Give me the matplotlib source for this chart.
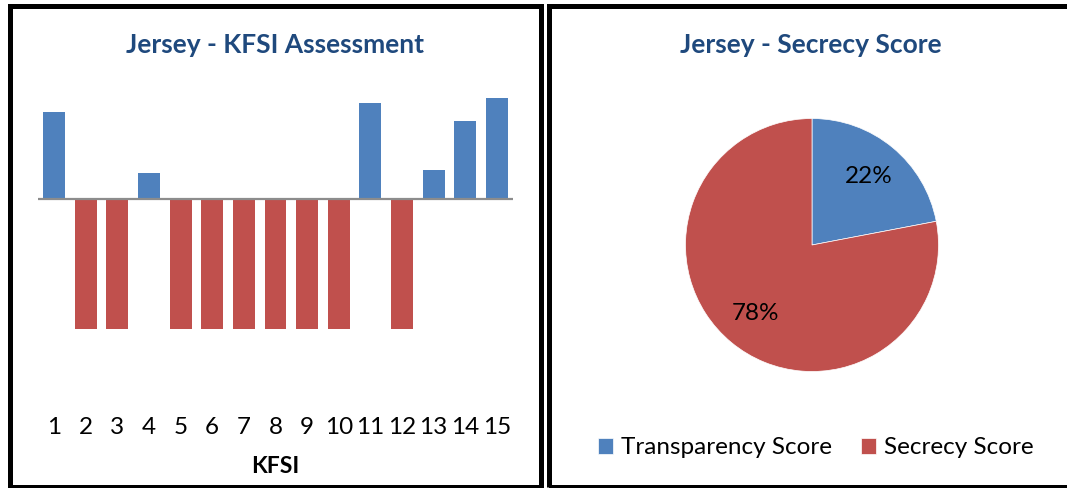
import matplotlib
matplotlib.use("Agg")
import matplotlib.pyplot as plt
from matplotlib.patches import Rectangle

plt.rcParams["font.family"] = ["Lato", "DejaVu Sans"]

# KFSI assessment: positive = transparent (blue), negative = secretive (red)
kfsi = list(range(1, 16))
kfsi_values = [0.67, -1, -1, 0.2, -1, -1, -1, -1, -1, -1, 0.74, -1, 0.22, 0.6, 0.78]

# secrecy pie
pie_labels = ["Transparency Score", "Secrecy Score"]
pie_values = [22, 78]

BLUE = "#4F81BD"
RED = "#C0504D"
TITLE = "#1F497D"

W, H = 1067, 488
fig = plt.figure(figsize=(W / 100, H / 100), dpi=100)


def fbox(x0, y0, x1, y1):
    # pixel box (top-left origin) -> figure fraction rect
    return [x0 / W, 1 - y1 / H, (x1 - x0) / W, (y1 - y0) / H]


# panel frames
for x0, x1 in [(9.5, 540.5), (548.5, 1090)]:
    fig.patches.append(Rectangle((x0 / W, 1 - 486.5 / H), (x1 - x0) / W, (486.5 - 6) / H,
                                 transform=fig.transFigure, fill=False,
                                 edgecolor="black", linewidth=3.6, zorder=0))

# left: bar chart
ax = fig.add_axes(fbox(38.3, 90, 512.7, 410))
colors = [BLUE if v > 0 else RED for v in kfsi_values]
ax.bar(kfsi, kfsi_values, width=0.695, color=colors)
ax.axhline(0, color="#8C8C8C", lw=1.6)
ax.set_xlim(0.5, 15.5)
ax.set_ylim(-(410 - 199) / 130, (199 - 90) / 130)
ax.set_xticks(kfsi)
ax.set_xticklabels([str(k) for k in kfsi], fontsize=17.5)
ax.tick_params(axis="x", length=0, pad=5)
ax.set_yticks([])
for s in ax.spines.values():
    s.set_visible(False)
ax.set_xlabel("KFSI", fontsize=16.5, fontweight="bold", labelpad=13)
fig.text(275 / W, 1 - 45 / H, "Jersey - KFSI Assessment", ha="center", va="center",
         fontsize=19, fontweight="bold", color=TITLE)

# right: pie
r = 126.5
axp = fig.add_axes(fbox(812 - r, 245 - r, 812 + r, 245 + r))
wedges, _, autotexts = axp.pie(pie_values, colors=[BLUE, RED], startangle=90,
                               counterclock=False, radius=1, autopct="%d%%",
                               pctdistance=0.7, textprops={"fontsize": 17.5},
                               wedgeprops={"linewidth": 0.5, "edgecolor": "white"})
axp.set_xlim(-1, 1)
axp.set_ylim(-1, 1)
axp.set_aspect("equal")
fig.text(811 / W, 1 - 45 / H, "Jersey - Secrecy Score", ha="center", va="center",
         fontsize=19, fontweight="bold", color=TITLE)
fig.legend(wedges, pie_labels, loc="center", bbox_to_anchor=(816 / W, 1 - 448 / H),
           ncol=2, frameon=False, fontsize=17.5, handlelength=0.6, handleheight=0.6,
           handletextpad=0.35, columnspacing=1.2, borderaxespad=0)

fig.savefig("out.png", dpi=100)
